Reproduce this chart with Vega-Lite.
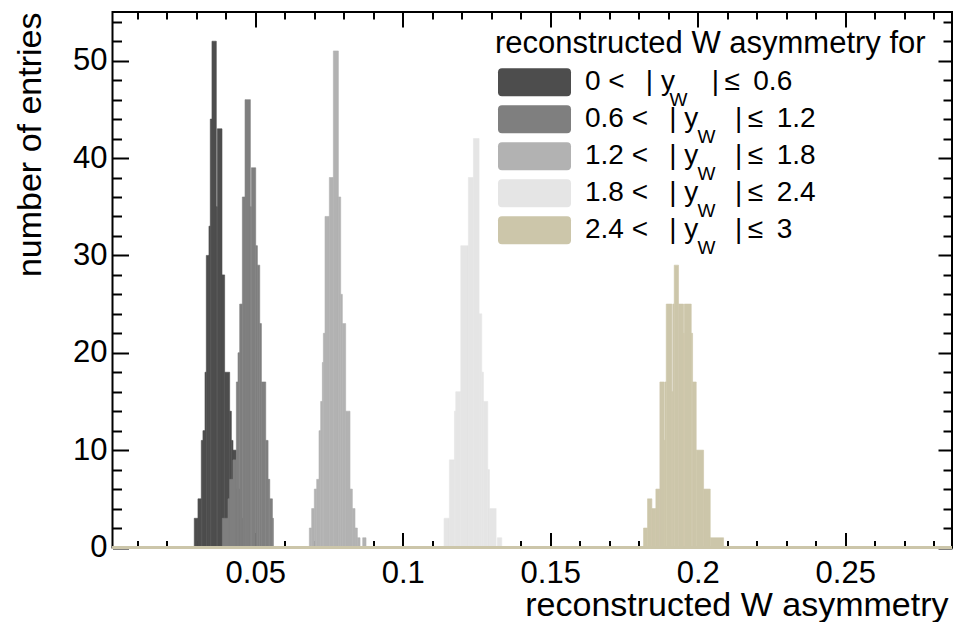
{
  "$schema": "https://vega.github.io/schema/vega-lite/v6.json",
  "width": 839.5,
  "height": 535.5,
  "autosize": {"type": "none"},
  "padding": {"left": 112.5, "top": 12, "right": 2, "bottom": 74.5},
  "background": "white",
  "config": {
    "view": {"stroke": "black", "strokeWidth": 2},
    "font": "Liberation Sans",
    "axis": {
      "labelFont": "Liberation Sans",
      "titleFont": "Liberation Sans",
      "labelColor": "black",
      "titleColor": "black",
      "tickColor": "black",
      "titleFontWeight": "normal",
      "grid": false,
      "domain": false,
      "zindex": 0,
      "labelOverlap": false,
      "labelFlush": false,
      "tickWidth": 2
    }
  },
  "datasets": {
    "hist": [
      {"range": "0 < |y_W| ≤ 0.6", "x0": 0.02932, "x1": 0.03057, "count": 3},
      {"range": "0 < |y_W| ≤ 0.6", "x0": 0.03057, "x1": 0.0317, "count": 5},
      {"range": "0 < |y_W| ≤ 0.6", "x0": 0.0317, "x1": 0.03226, "count": 11},
      {"range": "0 < |y_W| ≤ 0.6", "x0": 0.03226, "x1": 0.03295, "count": 12},
      {"range": "0 < |y_W| ≤ 0.6", "x0": 0.03295, "x1": 0.0334, "count": 18},
      {"range": "0 < |y_W| ≤ 0.6", "x0": 0.0334, "x1": 0.0343, "count": 30},
      {"range": "0 < |y_W| ≤ 0.6", "x0": 0.0343, "x1": 0.03475, "count": 33},
      {"range": "0 < |y_W| ≤ 0.6", "x0": 0.03475, "x1": 0.03532, "count": 44},
      {"range": "0 < |y_W| ≤ 0.6", "x0": 0.03532, "x1": 0.03679, "count": 52},
      {"range": "0 < |y_W| ≤ 0.6", "x0": 0.03679, "x1": 0.03713, "count": 35},
      {"range": "0 < |y_W| ≤ 0.6", "x0": 0.03713, "x1": 0.03872, "count": 43},
      {"range": "0 < |y_W| ≤ 0.6", "x0": 0.03872, "x1": 0.03962, "count": 28},
      {"range": "0 < |y_W| ≤ 0.6", "x0": 0.03962, "x1": 0.04132, "count": 18},
      {"range": "0 < |y_W| ≤ 0.6", "x0": 0.04132, "x1": 0.04189, "count": 14},
      {"range": "0 < |y_W| ≤ 0.6", "x0": 0.04189, "x1": 0.04245, "count": 11},
      {"range": "0 < |y_W| ≤ 0.6", "x0": 0.04245, "x1": 0.04359, "count": 10},
      {"range": "0 < |y_W| ≤ 0.6", "x0": 0.04359, "x1": 0.04472, "count": 6},
      {"range": "0 < |y_W| ≤ 0.6", "x0": 0.04472, "x1": 0.04585, "count": 3},

      {"range": "0.6 < |y_W| ≤ 1.2", "x0": 0.03883, "x1": 0.04076, "count": 3},
      {"range": "0.6 < |y_W| ≤ 1.2", "x0": 0.04076, "x1": 0.04132, "count": 5},
      {"range": "0.6 < |y_W| ≤ 1.2", "x0": 0.04132, "x1": 0.04245, "count": 7},
      {"range": "0.6 < |y_W| ≤ 1.2", "x0": 0.04245, "x1": 0.04359, "count": 9},
      {"range": "0.6 < |y_W| ≤ 1.2", "x0": 0.04359, "x1": 0.04415, "count": 17},
      {"range": "0.6 < |y_W| ≤ 1.2", "x0": 0.04415, "x1": 0.04472, "count": 20},
      {"range": "0.6 < |y_W| ≤ 1.2", "x0": 0.04472, "x1": 0.04562, "count": 25},
      {"range": "0.6 < |y_W| ≤ 1.2", "x0": 0.04562, "x1": 0.04653, "count": 36},
      {"range": "0.6 < |y_W| ≤ 1.2", "x0": 0.04653, "x1": 0.04834, "count": 46},
      {"range": "0.6 < |y_W| ≤ 1.2", "x0": 0.04834, "x1": 0.04868, "count": 35},
      {"range": "0.6 < |y_W| ≤ 1.2", "x0": 0.04868, "x1": 0.05015, "count": 39},
      {"range": "0.6 < |y_W| ≤ 1.2", "x0": 0.05015, "x1": 0.05072, "count": 31},
      {"range": "0.6 < |y_W| ≤ 1.2", "x0": 0.05072, "x1": 0.05151, "count": 29},
      {"range": "0.6 < |y_W| ≤ 1.2", "x0": 0.05151, "x1": 0.05208, "count": 23},
      {"range": "0.6 < |y_W| ≤ 1.2", "x0": 0.05208, "x1": 0.05355, "count": 17},
      {"range": "0.6 < |y_W| ≤ 1.2", "x0": 0.05355, "x1": 0.05434, "count": 11},
      {"range": "0.6 < |y_W| ≤ 1.2", "x0": 0.05434, "x1": 0.05491, "count": 7},
      {"range": "0.6 < |y_W| ≤ 1.2", "x0": 0.05491, "x1": 0.05581, "count": 5},
      {"range": "0.6 < |y_W| ≤ 1.2", "x0": 0.05581, "x1": 0.05615, "count": 3},

      {"range": "1.2 < |y_W| ≤ 1.8", "x0": 0.06833, "x1": 0.06912, "count": 2},
      {"range": "1.2 < |y_W| ≤ 1.8", "x0": 0.06912, "x1": 0.07002, "count": 4},
      {"range": "1.2 < |y_W| ≤ 1.8", "x0": 0.07002, "x1": 0.07082, "count": 6},
      {"range": "1.2 < |y_W| ≤ 1.8", "x0": 0.07082, "x1": 0.07161, "count": 7},
      {"range": "1.2 < |y_W| ≤ 1.8", "x0": 0.07161, "x1": 0.07217, "count": 12},
      {"range": "1.2 < |y_W| ≤ 1.8", "x0": 0.07217, "x1": 0.07274, "count": 15},
      {"range": "1.2 < |y_W| ≤ 1.8", "x0": 0.07274, "x1": 0.07308, "count": 19},
      {"range": "1.2 < |y_W| ≤ 1.8", "x0": 0.07308, "x1": 0.07364, "count": 22},
      {"range": "1.2 < |y_W| ≤ 1.8", "x0": 0.07364, "x1": 0.07511, "count": 34},
      {"range": "1.2 < |y_W| ≤ 1.8", "x0": 0.07511, "x1": 0.07647, "count": 38},
      {"range": "1.2 < |y_W| ≤ 1.8", "x0": 0.07647, "x1": 0.07817, "count": 51},
      {"range": "1.2 < |y_W| ≤ 1.8", "x0": 0.07817, "x1": 0.07896, "count": 36},
      {"range": "1.2 < |y_W| ≤ 1.8", "x0": 0.07896, "x1": 0.07952, "count": 26},
      {"range": "1.2 < |y_W| ≤ 1.8", "x0": 0.07952, "x1": 0.08065, "count": 23},
      {"range": "1.2 < |y_W| ≤ 1.8", "x0": 0.08065, "x1": 0.08212, "count": 14},
      {"range": "1.2 < |y_W| ≤ 1.8", "x0": 0.08212, "x1": 0.08291, "count": 6},
      {"range": "1.2 < |y_W| ≤ 1.8", "x0": 0.08291, "x1": 0.08382, "count": 4},
      {"range": "1.2 < |y_W| ≤ 1.8", "x0": 0.08382, "x1": 0.08461, "count": 2},
      {"range": "1.2 < |y_W| ≤ 1.8", "x0": 0.08461, "x1": 0.08552, "count": 1},
      {"range": "1.2 < |y_W| ≤ 1.8", "x0": 0.08642, "x1": 0.08755, "count": 1},

      {"range": "1.8 < |y_W| ≤ 2.4", "x0": 0.11401, "x1": 0.11582, "count": 3},
      {"range": "1.8 < |y_W| ≤ 2.4", "x0": 0.11582, "x1": 0.11752, "count": 9},
      {"range": "1.8 < |y_W| ≤ 2.4", "x0": 0.11752, "x1": 0.11797, "count": 14},
      {"range": "1.8 < |y_W| ≤ 2.4", "x0": 0.11797, "x1": 0.11967, "count": 16},
      {"range": "1.8 < |y_W| ≤ 2.4", "x0": 0.11967, "x1": 0.12226, "count": 31},
      {"range": "1.8 < |y_W| ≤ 2.4", "x0": 0.12226, "x1": 0.12396, "count": 38},
      {"range": "1.8 < |y_W| ≤ 2.4", "x0": 0.12396, "x1": 0.12588, "count": 42},
      {"range": "1.8 < |y_W| ≤ 2.4", "x0": 0.12588, "x1": 0.12679, "count": 24},
      {"range": "1.8 < |y_W| ≤ 2.4", "x0": 0.12679, "x1": 0.12735, "count": 18},
      {"range": "1.8 < |y_W| ≤ 2.4", "x0": 0.12735, "x1": 0.12882, "count": 15},
      {"range": "1.8 < |y_W| ≤ 2.4", "x0": 0.12882, "x1": 0.12939, "count": 8},
      {"range": "1.8 < |y_W| ≤ 2.4", "x0": 0.12939, "x1": 0.13165, "count": 4},
      {"range": "1.8 < |y_W| ≤ 2.4", "x0": 0.1321, "x1": 0.13357, "count": 1},

      {"range": "2.4 < |y_W| ≤ 3", "x0": 0.18163, "x1": 0.18298, "count": 2},
      {"range": "2.4 < |y_W| ≤ 3", "x0": 0.18298, "x1": 0.18445, "count": 5},
      {"range": "2.4 < |y_W| ≤ 3", "x0": 0.18445, "x1": 0.18581, "count": 4},
      {"range": "2.4 < |y_W| ≤ 3", "x0": 0.18581, "x1": 0.18717, "count": 6},
      {"range": "2.4 < |y_W| ≤ 3", "x0": 0.18717, "x1": 0.18864, "count": 17},
      {"range": "2.4 < |y_W| ≤ 3", "x0": 0.18864, "x1": 0.18887, "count": 11},
      {"range": "2.4 < |y_W| ≤ 3", "x0": 0.18887, "x1": 0.18932, "count": 17},
      {"range": "2.4 < |y_W| ≤ 3", "x0": 0.18932, "x1": 0.19124, "count": 25},
      {"range": "2.4 < |y_W| ≤ 3", "x0": 0.19124, "x1": 0.19155, "count": 16},
      {"range": "2.4 < |y_W| ≤ 3", "x0": 0.19155, "x1": 0.19203, "count": 25},
      {"range": "2.4 < |y_W| ≤ 3", "x0": 0.19203, "x1": 0.1935, "count": 29},
      {"range": "2.4 < |y_W| ≤ 3", "x0": 0.1935, "x1": 0.1952, "count": 25},
      {"range": "2.4 < |y_W| ≤ 3", "x0": 0.1952, "x1": 0.19542, "count": 22},
      {"range": "2.4 < |y_W| ≤ 3", "x0": 0.19542, "x1": 0.1978, "count": 25},
      {"range": "2.4 < |y_W| ≤ 3", "x0": 0.1978, "x1": 0.19825, "count": 22},
      {"range": "2.4 < |y_W| ≤ 3", "x0": 0.19825, "x1": 0.19949, "count": 17},
      {"range": "2.4 < |y_W| ≤ 3", "x0": 0.19949, "x1": 0.20198, "count": 10},
      {"range": "2.4 < |y_W| ≤ 3", "x0": 0.20198, "x1": 0.20424, "count": 6},
      {"range": "2.4 < |y_W| ≤ 3", "x0": 0.20424, "x1": 0.20876, "count": 1}
    ],
    "bands": [
      {"band": "0-0.6"},
      {"band": "0.6-1.2"},
      {"band": "1.2-1.8"},
      {"band": "1.8-2.4"},
      {"band": "2.4-3"}
    ]
  },
  "layer": [
    {
      "data": {"name": "hist"},
      "mark": {"type": "rect", "strokeWidth": 0.6},
      "encoding": {
        "x": {
          "field": "x0",
          "type": "quantitative",
          "scale": {"domain": [0.0016, 0.2862], "nice": false, "zero": false, "padding": 0},
          "axis": {
            "orient": "bottom",
            "values": [0.01, 0.02, 0.03, 0.04, 0.05, 0.06, 0.07, 0.08, 0.09, 0.1, 0.11, 0.12, 0.13, 0.14, 0.15, 0.16, 0.17, 0.18, 0.19, 0.2, 0.21, 0.22, 0.23, 0.24, 0.25, 0.26, 0.27, 0.28],
            "format": "~g",
            "labelExpr": "round(datum.value * 100) % 5 == 0 ? datum.label : ''",
            "labelFontSize": 31,
            "labelPadding": 26,
            "labelFlush": false,
            "tickSize": {"condition": {"test": "round(datum.value * 100) % 5 == 0", "value": -15}, "value": -7},
            "title": "reconstructed W asymmetry",
            "titleFontSize": 34,
            "titleAnchor": "end",
            "titleAlign": "right",
            "titleBaseline": "alphabetic",
            "titleX": 835.5,
            "titleY": 68
          }
        },
        "x2": {"field": "x1"},
        "y": {
          "field": "count",
          "type": "quantitative",
          "stack": null,
          "scale": {"domain": [0, 55], "nice": false, "padding": 0},
          "axis": {
            "orient": "left",
            "values": [0, 2, 4, 6, 8, 10, 12, 14, 16, 18, 20, 22, 24, 26, 28, 30, 32, 34, 36, 38, 40, 42, 44, 46, 48, 50, 52, 54],
            "format": "d",
            "labelExpr": "datum.value % 10 == 0 ? datum.label : ''",
            "labelFontSize": 31,
            "labelPadding": 21.5,
            "labelFlush": false,
            "labelAlign": "right",
            "labelBaseline": "middle",
            "tickSize": {"condition": {"test": "datum.value % 10 == 0", "value": -16}, "value": -9},
            "title": "number of entries",
            "titleFontSize": 34,
            "titleAngle": 270,
            "titleAnchor": "end",
            "titleAlign": "right",
            "titleBaseline": "alphabetic",
            "titleX": -72.5,
            "titleY": 0
          }
        },
        "y2": {"datum": 0},
        "fill": {
          "field": "range",
          "type": "nominal",
          "scale": {
            "domain": ["0 < |y_W| ≤ 0.6", "0.6 < |y_W| ≤ 1.2", "1.2 < |y_W| ≤ 1.8", "1.8 < |y_W| ≤ 2.4", "2.4 < |y_W| ≤ 3"],
            "range": ["#4d4d4d", "#7f7f7f", "#b2b2b2", "#e5e5e5", "#ccc6aa"]
          },
          "legend": {
            "orient": "none",
            "direction": "vertical",
            "legendX": 382.5,
            "legendY": 16.8,
            "padding": 0,
            "title": "reconstructed W asymmetry for",
            "titleFont": "Liberation Sans",
            "titleFontSize": 31,
            "titleFontWeight": "normal",
            "titleColor": "black",
            "titlePadding": 8.5,
            "titleLimit": 1000,
            "labelFont": "Liberation Sans",
            "labelFontSize": 28,
            "labelColor": "black",
            "labelLimit": 1000,
            "labelOffset": 36.5,
            "labelExpr": "replace(datum.label, ' |y_W| ≤ ', '\u00a0\u00a0\u2009|\u00a0y\u00a0\u00a0\u00a0\u00a0\u2009|\u2009≤\u00a0\u2009')",
            "symbolType": "M-2.32,-1 L2.32,-1 Q2.607,-1 2.607,-0.714 L2.607,0.714 Q2.607,1 2.32,1 L-2.32,1 Q-2.607,1 -2.607,0.714 L-2.607,-0.714 Q-2.607,-1 -2.32,-1 Z",
            "symbolSize": 784,
            "symbolStrokeWidth": 0,
            "symbolOpacity": 1,
            "symbolOffset": 25.5,
            "rowPadding": 9
          }
        },
        "stroke": {
          "field": "range",
          "type": "nominal",
          "scale": {
            "domain": ["0 < |y_W| ≤ 0.6", "0.6 < |y_W| ≤ 1.2", "1.2 < |y_W| ≤ 1.8", "1.8 < |y_W| ≤ 2.4", "2.4 < |y_W| ≤ 3"],
            "range": ["#4d4d4d", "#7f7f7f", "#b2b2b2", "#e5e5e5", "#ccc6aa"]
          },
          "legend": null
        }
      }
    },
    {
      "data": {"name": "hist"},
      "mark": {"type": "rect", "opacity": 0},
      "encoding": {
        "x": {
          "field": "x0",
          "type": "quantitative",
          "axis": {
            "orient": "top",
            "values": [0.01, 0.02, 0.03, 0.04, 0.05, 0.06, 0.07, 0.08, 0.09, 0.1, 0.11, 0.12, 0.13, 0.14, 0.15, 0.16, 0.17, 0.18, 0.19, 0.2, 0.21, 0.22, 0.23, 0.24, 0.25, 0.26, 0.27, 0.28],
            "labels": false,
            "title": null,
            "tickSize": {"condition": {"test": "round(datum.value * 100) % 5 == 0", "value": -15}, "value": -7}
          }
        },
        "x2": {"field": "x1"},
        "y": {
          "field": "count",
          "type": "quantitative",
          "stack": null,
          "axis": {
            "orient": "right",
            "values": [0, 2, 4, 6, 8, 10, 12, 14, 16, 18, 20, 22, 24, 26, 28, 30, 32, 34, 36, 38, 40, 42, 44, 46, 48, 50, 52, 54],
            "labels": false,
            "title": null,
            "tickSize": {"condition": {"test": "datum.value % 10 == 0", "value": -14}, "value": -9}
          }
        },
        "y2": {"datum": 0}
      }
    },
    {
      "data": {"name": "bands"},
      "mark": {"type": "rule", "strokeWidth": 3},
      "encoding": {
        "y": {"datum": 0, "type": "quantitative", "axis": null},
        "stroke": {
          "field": "band",
          "type": "nominal",
          "scale": {
            "domain": ["0-0.6", "0.6-1.2", "1.2-1.8", "1.8-2.4", "2.4-3"],
            "range": ["#ccc6aa", "#ccc6aa", "#ccc6aa", "#ccc6aa", "#ccc6aa"]
          },
          "legend": {
            "orient": "none",
            "direction": "vertical",
            "legendX": 382.5,
            "legendY": 73.8,
            "padding": 0,
            "title": null,
            "labelFont": "Liberation Sans",
            "labelFontSize": 19,
            "labelColor": "black",
            "labelLimit": 1000,
            "labelOffset": 121,
            "labelExpr": "'W'",
            "symbolType": "M-2.32,-1 L2.32,-1 Q2.607,-1 2.607,-0.714 L2.607,0.714 Q2.607,1 2.32,1 L-2.32,1 Q-2.607,1 -2.607,0.714 L-2.607,-0.714 Q-2.607,-1 -2.32,-1 Z",
            "symbolSize": 784,
            "symbolStrokeWidth": 0,
            "symbolOpacity": 0,
            "symbolOffset": 25.5,
            "rowPadding": 9,
            "encode": {
              "labels": {
                "update": {
                  "dx": {"signal": "datum.value == '0-0.6' ? 0 : 28"}
                }
              }
            }
          }
        }
      }
    }
  ],
  "resolve": {
    "axis": {"x": "independent", "y": "independent"},
    "scale": {"stroke": "independent"},
    "legend": {"stroke": "independent"}
  }
}
